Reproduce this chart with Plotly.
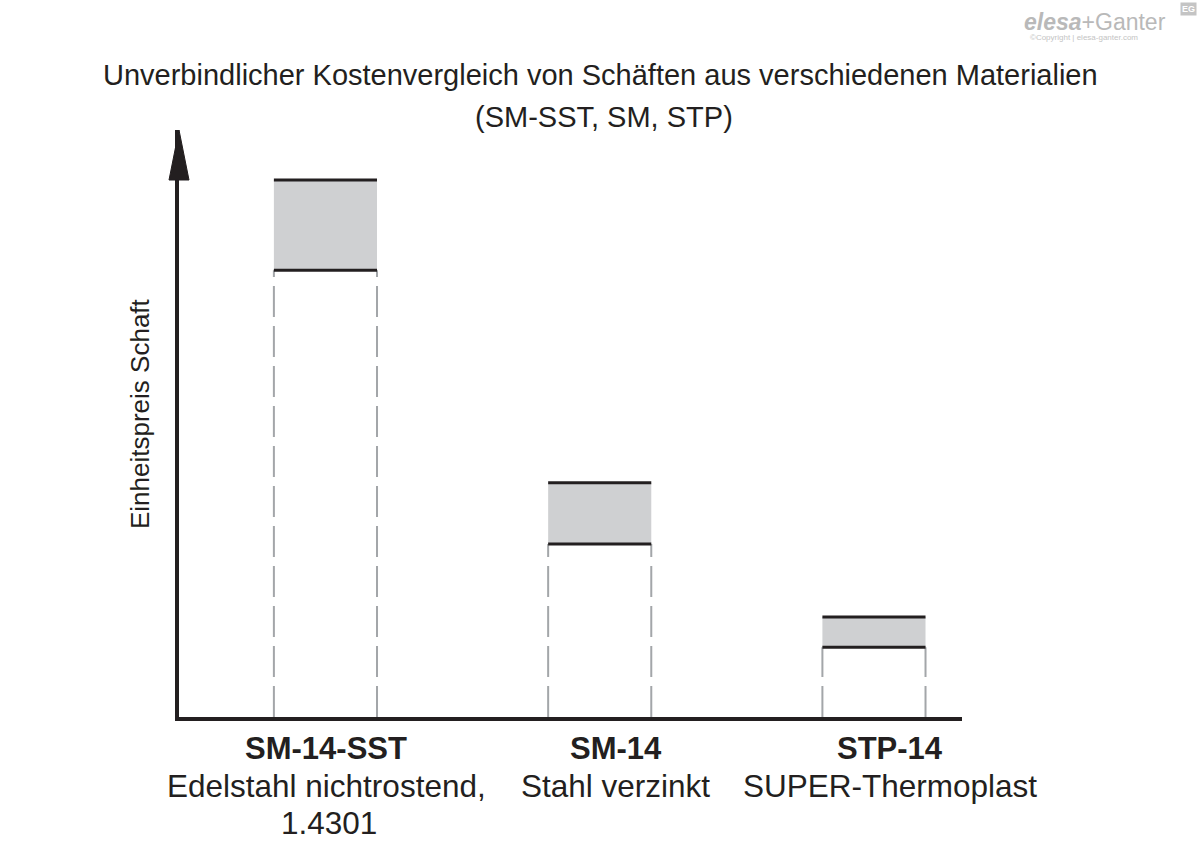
import plotly.graph_objects as go

# Data (relative unit price, arbitrary scale)
codes = ["SM-14-SST", "SM-14", "STP-14"]
material_lines = [["Edelstahl nichtrostend,", "1.4301"], ["Stahl verzinkt"], ["SUPER-Thermoplast"]]
price_low = [83.2, 32.2, 13.0]
price_high = [100.0, 43.6, 18.6]

x_pos = [0, 1, 2]
bar_w = 0.376
y_top = 109.3
label_xshift = [1, 16, 16]

dark = "#231f20"
fill = "#cfd0d2"
dash_col = "#a3a6a9"
FONT = "Liberation Sans, Arial"

fig = go.Figure()

# gray range boxes
fig.add_trace(go.Bar(
    x=x_pos, y=[h - l for h, l in zip(price_high, price_low)], base=price_low,
    width=bar_w, marker=dict(color=fill, line=dict(width=0)), hoverinfo="skip"))

# dashed vertical lines and horizontal bounds
for xi, lo, hi in zip(x_pos, price_low, price_high):
    for side in (-1, 1):
        xe = xi + side * bar_w / 2
        fig.add_trace(go.Scatter(x=[xe, xe], y=[0, lo], mode="lines",
                                 line=dict(color=dash_col, width=2, dash="31px,9px"),
                                 hoverinfo="skip"))
    for yv in (lo, hi):
        fig.add_trace(go.Scatter(x=[xi - bar_w / 2, xi + bar_w / 2], y=[yv, yv], mode="lines",
                                 line=dict(color=dark, width=3), hoverinfo="skip"))

x_left = -0.534
x_right = 2.321

# category labels
for xi, c, lines, xs in zip(x_pos, codes, material_lines, label_xshift):
    fig.add_annotation(x=xi, y=0, yref="y", yshift=-31, xshift=xs, yanchor="middle",
                       text=f"<b>{c}</b>", showarrow=False,
                       font=dict(family=FONT, size=31, color=dark))
    for k, ln in enumerate(lines):
        fig.add_annotation(x=xi, y=0, yref="y", yshift=-69 - 37 * k, xshift=xs + 3 * k,
                           yanchor="middle", text=ln, showarrow=False,
                           font=dict(family=FONT, size=31.5, color=dark))

# arrow head on y axis (paper ref, not clipped)
fig.add_shape(type="path", xref="paper", yref="paper", xsizemode="pixel", ysizemode="pixel",
              xanchor=0, yanchor=1,
              path="M -10 -50 L 0 0 L 10 -50 Z",
              fillcolor=dark, line=dict(color=dark, width=1))

fig.update_layout(
    width=1200, height=846,
    margin=dict(l=179, r=238, t=130, b=129),
    paper_bgcolor="white", plot_bgcolor="white",
    showlegend=False,
    xaxis=dict(range=[x_left, x_right], showgrid=False, zeroline=False,
               showticklabels=False, ticks="", showline=True, linecolor=dark, linewidth=4,
               fixedrange=True),
    yaxis=dict(range=[0, y_top], showgrid=False, zeroline=False,
               showticklabels=False, ticks="", showline=True, linecolor=dark, linewidth=4,
               fixedrange=True),
)

px = lambda xp: (xp - 179) / 783
py = lambda yp: (717 - yp) / 587

# y axis title
fig.add_annotation(xref="paper", yref="paper", x=px(140), y=py(414),
                   xanchor="center", yanchor="middle", textangle=-90, showarrow=False,
                   text="Einheitspreis Schaft",
                   font=dict(family=FONT, size=26, color=dark))

# title
fig.add_annotation(xref="paper", yref="paper", x=px(600), y=py(75),
                   yanchor="middle", showarrow=False,
                   text="Unverbindlicher Kostenvergleich von Schäften aus verschiedenen Materialien",
                   font=dict(family=FONT, size=29, color=dark))
fig.add_annotation(xref="paper", yref="paper", x=px(604), y=py(117),
                   yanchor="middle", showarrow=False,
                   text="(SM-SST, SM, STP)",
                   font=dict(family=FONT, size=29, color=dark))

# watermark logo (top right)
fig.add_annotation(xref="paper", yref="paper", x=px(1168), y=py(22),
                   xanchor="right", yanchor="middle", showarrow=False,
                   text="<b><i>elesa</i></b>+Ganter",
                   font=dict(family=FONT, size=23, color="#b9b9b9"))
fig.add_annotation(xref="paper", yref="paper", x=px(1140), y=py(37),
                   xanchor="right", yanchor="middle", showarrow=False,
                   text="©Copyright | elesa-ganter.com",
                   font=dict(family=FONT, size=8, color="#c4c4c4"))
fig.add_annotation(xref="paper", yref="paper", x=px(1197), y=py(2),
                   xanchor="right", yanchor="top", showarrow=False,
                   text="<b>EG</b>", bgcolor="#c4c4c4",
                   font=dict(family=FONT, size=9, color="white"))

fig.write_html("out.html")
